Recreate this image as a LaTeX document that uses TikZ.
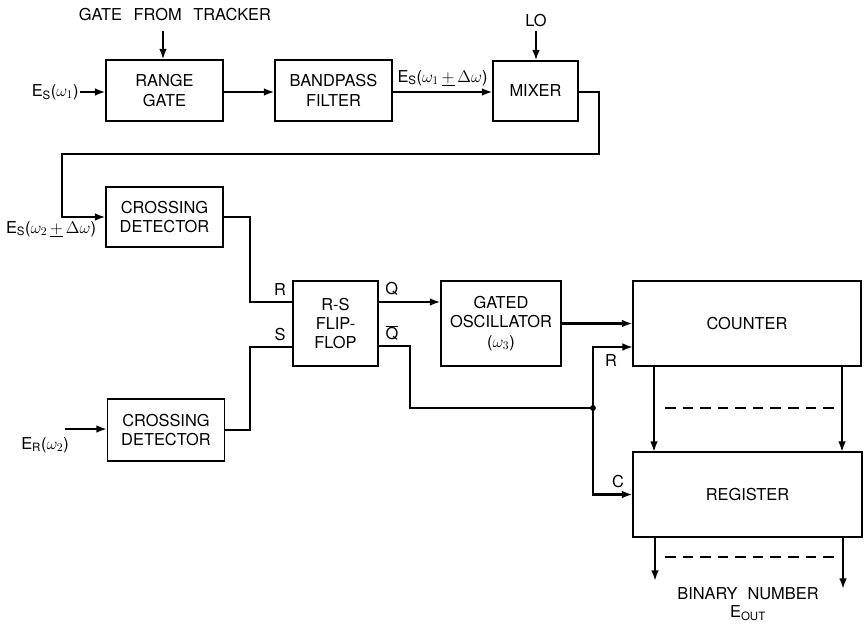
\documentclass[tikz,border=0pt]{standalone}
\usepackage{fontspec}
\setmainfont{TeX Gyre Heros}
\usetikzlibrary{positioning,arrows.meta,calc}

\begin{document}
\begin{tikzpicture}[x=0.03cm, y=-0.03cm,
    every node/.style={font=\fontsize{14}{16.5}\selectfont},
    blk/.style={draw, line width=0.9pt, align=center, inner sep=0pt},
    sig/.style={line width=2pt, -{Latex[length=9pt,width=6.5pt]}},
    wire/.style={line width=2pt},
    bus/.style={line width=1.1pt, dash pattern=on 9pt off 6pt}]
    \useasboundingbox (0,0) rectangle (864,625);
    %
    % top row
    \node[blk, minimum width=3.51cm, minimum height=1.83cm] (rg)  at (164.5,90.5) {RANGE\\GATE};
    \node[blk, minimum width=3.51cm, minimum height=1.83cm] (bpf) at (333.5,90.5) {BANDPASS\\FILTER};
    \node[blk, minimum width=2.55cm, minimum height=1.80cm] (mix) at (535.5,91) {MIXER};
    \node (gft) at (175,15) {GATE\hspace{0.35cm}FROM\hspace{0.35cm}TRACKER};
    \node[coordinate] (gtop) at (163,31) {};
    \node (lo) at (536,21) {LO};
    \node[anchor=east, inner sep=1pt] (es1) at (80,92) {E$_\mathrm{S}$($\omega_1$)};
    %
    \draw[sig] (gtop) -- (gtop |- rg.north);
    \draw[sig] (lo.south) -- (lo.south |- mix.north);
    \draw[sig] (es1.east) -- (es1.east -| rg.west);
    \draw[sig] (es1.east -| rg.east) -- (es1.east -| bpf.west);
    \draw[sig] (es1.east -| bpf.east) -- node[above=1pt] {E$_\mathrm{S}$($\omega_1\,\underline{+}\,\Delta\omega$)} (es1.east -| mix.west);
    %
    % crossing detectors
    \node[blk, minimum width=3.51cm, minimum height=1.80cm] (cd1) at (164.5,217) {CROSSING\\DETECTOR};
    \node[blk, minimum width=3.51cm, minimum height=1.86cm] (cd2) at (166,430) {CROSSING\\DETECTOR};
    \node[coordinate] (mx1) at (599,154) {};
    \node[coordinate] (mx2) at (62,154) {};
    \draw[sig] (mix.east |- es1.east) -| (mx1) -- (mx2) |- (cd1.west);
    \node (es2) at (51,229) {E$_\mathrm{S}$($\omega_2\,\underline{+}\,\Delta\omega$)};
    \node[coordinate] (er) at (65,429) {};
    \draw[sig] (er) -- (er -| cd2.west);
    \node (erl) at (45,445) {E$_\mathrm{R}$($\omega_2$)};
    %
    % flip-flop and oscillator
    \node[blk, minimum width=2.55cm, minimum height=2.55cm] (ff) at (335.5,323.5) {R-S\\FLIP-\\FLOP};
    \node[blk, minimum width=3.60cm, minimum height=2.55cm] (osc) at (501,323.5) {GATED\\OSCILLATOR\\($\omega_3$)};
    \node[coordinate] (ffR) at (293,302) {};
    \node[coordinate] (ffS) at (293,347) {};
    \node[coordinate] (ffQ) at (378,302) {};
    \node[coordinate] (ffQb) at (378,346) {};
    \draw[wire] (cd1.east) -| (250,280) |- node[pos=0.85, above=1pt] {R} (ffR);
    \draw[wire] (cd2.east) -| (250,380) |- node[pos=0.85, above=1pt] {S} (ffS);
    \draw[sig] (ffQ) -- node[pos=0.22, above=1pt] {Q} (ffQ -| osc.west);
    \node[inner sep=1pt] (qb) at (392,333) {$\overline{\mathrm{Q}}$};
    %
    % counter and register
    \node[blk, minimum width=6.84cm, minimum height=2.55cm] (cnt) at (747,323.5) {COUNTER};
    \node[blk, minimum width=6.87cm, minimum height=2.55cm] (reg) at (747.5,494.5) {REGISTER};
    \node[coordinate] (jn) at (593,408) {};
    \node[coordinate] (cntR) at (633,347) {};
    \draw[sig] (osc.east) -- (osc.east -| cnt.west);
    \draw[wire] (ffQb) -| (410,408) -- (jn);
    \draw[sig] (jn) |- (cntR);
    \draw[sig] (jn) |- (reg.west);
    \fill (jn) circle (2.5pt);
    \node at (611,361) {R};
    \node at (618,482) {C};
    %
    \draw[sig] (654,366) -- (654,452);
    \draw[sig] (842,366) -- (842,452);
    \draw[bus] (665,408) -- (838,408);
    \draw[sig] (655,537) -- (655,581);
    \draw[sig] (843,537) -- (843,589);
    \draw[bus] (665,557) -- (840,557);
    \node (bn) at (748,594) {BINARY\hspace{0.3cm}NUMBER};
    \node (eout) at (748,613) {E$_\mathrm{OUT}$};
\end{tikzpicture}
\end{document}
